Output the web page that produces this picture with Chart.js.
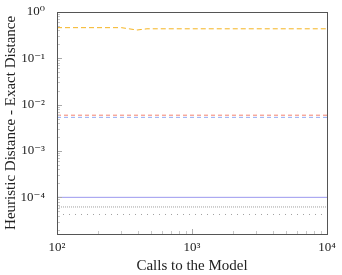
<!DOCTYPE html>
<html><head><meta charset="utf-8">
<script src="https://cdn.jsdelivr.net/npm/chart.js@4.4.0/dist/chart.umd.min.js"></script>
<style>html,body{margin:0;padding:0;background:#fff}#w{width:342px;height:275px}</style>
</head><body><div id="w"><canvas id="c"></canvas></div>
<script>
const xTicks=[100,1000,10000];
const yTicks=[1,0.1,0.01,0.001,0.0001];
const xLabels=['10²','10³','10⁴'];
const yLabels=['10⁰','10⁻¹','10⁻²','10⁻³','10⁻⁴'];
const orangeX=[100,300,392,464,10000];
const orangeY=[0.455,0.455,0.405,0.43,0.43];
const flatX=[100,10000];
const redY=[0.0059,0.0059];
const blueDashY=[0.0053,0.0053];
const solidY=[0.0001,0.0001];
const denseDotY=[0.000062,0.000062];
const looseDotY=[0.0000427,0.0000427];

const pts=(xs,ys)=>xs.map((x,i)=>({x:x,y:ys[i]}));
const ds=(xs,ys,color,dash)=>({data:pts(xs,ys),borderColor:color,borderWidth:1,borderDash:dash,pointRadius:0,fill:false,tension:0});

const serif="'Liberation Serif','DejaVu Serif',serif";

const frame={id:'frame',afterDraw(ch){
  const ctx=ch.ctx,a=ch.chartArea,x=ch.scales.x,y=ch.scales.y;
  ctx.save();ctx.lineWidth=1;
  ctx.strokeStyle='#c8c8c8';
  for(let d=-5;d<=4;d++){for(let k=2;k<=9;k++){const v=k*Math.pow(10,d);
    if(v>y.min&&v<y.max){const p=Math.round(y.getPixelForValue(v))+0.5;ctx.beginPath();ctx.moveTo(a.left,p);ctx.lineTo(a.left+3,p);ctx.stroke();}
    if(v>x.min&&v<x.max){const p=Math.round(x.getPixelForValue(v))+0.5;ctx.beginPath();ctx.moveTo(p,a.bottom);ctx.lineTo(p,a.bottom-3);ctx.stroke();}
  }}
  ctx.strokeStyle='#aaa';
  yTicks.forEach(v=>{const p=Math.round(y.getPixelForValue(v))+0.5;ctx.beginPath();ctx.moveTo(a.left,p);ctx.lineTo(a.left+5,p);ctx.stroke();});
  xTicks.forEach(v=>{const p=Math.round(x.getPixelForValue(v))+0.5;ctx.beginPath();ctx.moveTo(p,a.bottom);ctx.lineTo(p,a.bottom-5);ctx.stroke();});
  ctx.strokeStyle='#555';
  ctx.strokeRect(Math.round(a.left)+0.5,Math.round(a.top)+0.5,Math.round(a.right-a.left),Math.round(a.bottom-a.top));
  ctx.restore();
}};

new Chart(document.getElementById('c'),{
  type:'line',
  data:{datasets:[
    ds(orangeX,orangeY,'#f5b420',[5,3]),
    ds(flatX,redY,'#f28270',[4,3]),
    ds(flatX,blueDashY,'#94aaf2',[4,3]),
    ds(flatX,solidY,'#9c98ee',[]),
    ds(flatX,denseDotY,'#a0a0a0',[1,1]),
    ds(flatX,looseDotY,'#a0a0a0',[1,5])
  ]},
  options:{
    responsive:true,maintainAspectRatio:false,animation:false,
    layout:{padding:{left:0,right:15,top:10,bottom:0}},
    plugins:{legend:{display:false},tooltip:{enabled:false}},
    scales:{
      x:{type:'logarithmic',min:100,max:10000,
        grid:{display:false,drawTicks:false},border:{display:false},
        afterBuildTicks:s=>{s.ticks=xTicks.map(v=>({value:v}));},
        afterFit:s=>{s.height=41;},
        ticks:{autoSkip:false,maxRotation:0,padding:6,color:'#222',font:{family:serif,size:13},callback:(v,i)=>xLabels[i]},
        title:{display:true,text:'Calls to the Model',color:'#222',font:{family:serif,size:15},padding:{top:0,bottom:0}}
      },
      y:{type:'logarithmic',min:1.62e-5,max:1,
        grid:{display:false},border:{display:false},
        afterBuildTicks:s=>{s.ticks=yTicks.map(v=>({value:v}));},
        afterFit:s=>{s.width=57;},
        ticks:{autoSkip:false,padding:4,color:'#222',font:{family:serif,size:13},callback:(v,i)=>yLabels[i]},
        title:{display:true,text:'Heuristic Distance - Exact Distance',color:'#222',font:{family:serif,size:15},padding:{top:2,bottom:0}}
      }
    }
  },
  plugins:[frame]
});
</script></body></html>
